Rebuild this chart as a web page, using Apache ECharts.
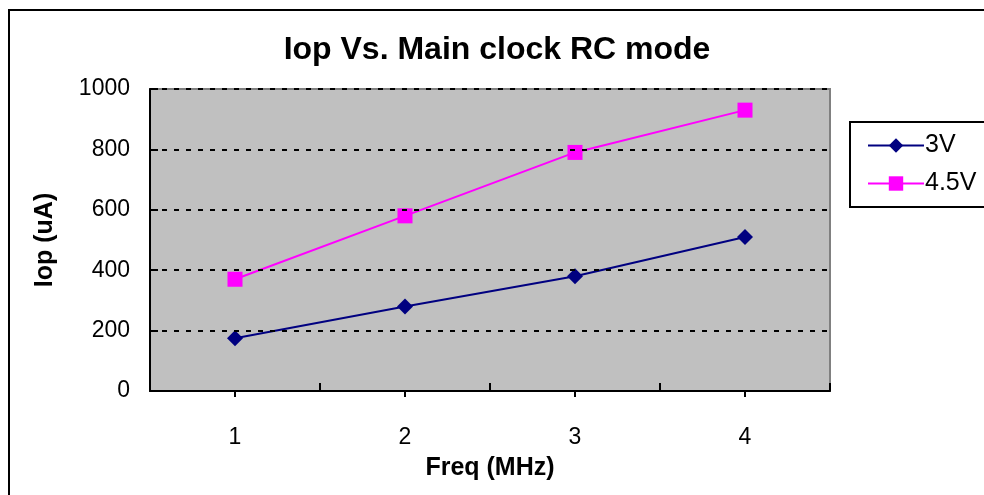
<!DOCTYPE html>
<html>
<head>
<meta charset="utf-8">
<script src="https://cdn.jsdelivr.net/npm/echarts@6/dist/echarts.min.js"></script>
<style>
html, body { margin: 0; padding: 0; background: #fff; }
#chart { width: 984px; height: 495px; }
</style>
</head>
<body>
<div id="chart"></div>
<script>
var freqs = ['1', '2', '3', '4'];
var iop3V = [175, 280, 380, 510];
var iop45V = [370, 580, 790, 930];
var yTicks = { min: 0, max: 1000, interval: 200 };

var chart = echarts.init(document.getElementById('chart'));
var font = 'Arial, "Liberation Sans", sans-serif';

chart.setOption({
    animation: false,
    backgroundColor: '#fff',
    textStyle: { fontFamily: font },
    title: {
        text: 'Iop Vs. Main clock RC mode',
        left: 492,
        textAlign: 'center',
        top: 29,
        textStyle: { fontSize: 32, fontWeight: 'bold', color: '#000', fontFamily: font }
    },
    legend: {
        orient: 'vertical',
        left: 862,
        top: 128,
        itemWidth: 56,
        itemHeight: 18,
        itemGap: 13,
        textStyle: { fontSize: 25, color: '#000', fontFamily: font, padding: [0, 0, 0, -4] },
        data: ['3V', '4.5V']
    },
    graphic: [
        { type: 'rect', shape: { x: 9, y: 10, width: 1000, height: 500 },
          style: { fill: null, stroke: '#000', lineWidth: 2 }, z: 100 },
        { type: 'rect', shape: { x: 850, y: 122, width: 200, height: 85 },
          style: { fill: null, stroke: '#000', lineWidth: 2 }, z: 100 }
    ],
    grid: {
        left: 150, right: 154, top: 89, bottom: 104,
        show: true, backgroundColor: '#c0c0c0', borderColor: '#808080', borderWidth: 2
    },
    xAxis: [{
        type: 'category',
        data: freqs,
        boundaryGap: true,
        name: 'Freq (MHz)',
        nameLocation: 'middle',
        nameGap: 65,
        nameTextStyle: { fontSize: 25, fontWeight: 'bold', color: '#000', fontFamily: font },
        axisLine: { show: true, lineStyle: { color: '#000', width: 2 } },
        axisTick: { show: true, inside: true, length: 8, lineStyle: { color: '#000', width: 2 } },
        axisLabel: { fontSize: 23, color: '#000', margin: 35 },
        splitLine: { show: false },
        z: 10
    }, {
        type: 'category',
        data: freqs,
        position: 'bottom',
        boundaryGap: true,
        axisLine: { show: false },
        axisTick: { show: true, alignWithLabel: true, length: 6, lineStyle: { color: '#000', width: 2 } },
        axisLabel: { show: false },
        splitLine: { show: false },
        z: 10
    }],
    yAxis: {
        type: 'value',
        min: yTicks.min,
        max: yTicks.max,
        interval: yTicks.interval,
        name: 'Iop (uA)',
        nameLocation: 'middle',
        nameGap: 92,
        nameTextStyle: { fontSize: 25, fontWeight: 'bold', color: '#000', fontFamily: font },
        axisLine: { show: true, lineStyle: { color: '#000', width: 2 } },
        axisTick: { show: true, inside: true, length: 8, lineStyle: { color: '#000', width: 2 } },
        axisLabel: { fontSize: 23, color: '#000', margin: 20, formatter: function (v) { return String(v); } },
        splitLine: { show: true, lineStyle: { color: '#000', type: [5, 7], width: 2 } },
        z: 10
    },
    series: [{
        name: '3V',
        type: 'line',
        data: iop3V,
        symbol: 'diamond',
        symbolSize: 16,
        color: '#000080',
        lineStyle: { width: 2, color: '#000080' },
        itemStyle: { color: '#000080' }
    }, {
        name: '4.5V',
        type: 'line',
        data: iop45V,
        symbol: 'rect',
        symbolSize: 15,
        color: '#ff00ff',
        lineStyle: { width: 2, color: '#ff00ff' },
        itemStyle: { color: '#ff00ff' }
    }]
});
</script>
</body>
</html>
